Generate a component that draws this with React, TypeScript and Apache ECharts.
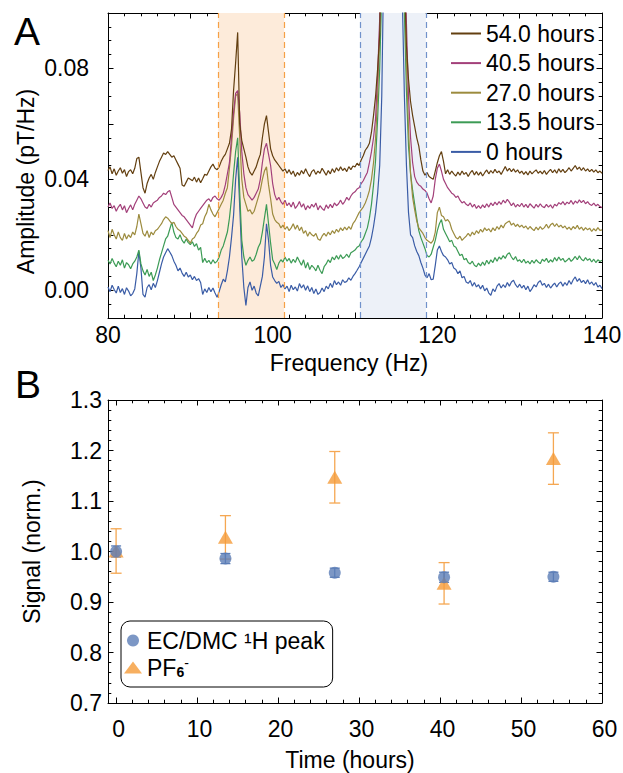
import React, { useEffect, useRef } from "react";
import * as echarts from "echarts";

const FONT = "'Liberation Sans', Arial, Helvetica, sans-serif";

// ---------- Panel A: spectra (values in 1e-3 pT/Hz, 0.25 Hz steps from 80 Hz) ----------
const FREQ_START = 80;
const FREQ_STEP = 0.25;

const amp0h = [
  1.2, -0.5, 1.8, 0.3, -1.0, 1.5, -0.8, 0.6, -1.5, 0.9, -0.3, -2.0, -1.2, 0.5, 6.0, 14.0, 8.0, -1.5, -2.5, 1.0,
  2.0, 0.2, 2.5, 1.0, 3.5, 6.5, 9.5, 12.0, 13.5, 15.0, 13.8, 12.5, 10.5, 9.0, 7.0, 8.0, 6.2, 5.0, 6.5, 4.8,
  5.5, 3.8, 5.0, 3.5, 4.2, 2.8, -1.5, 0.5, -0.8, 1.0, -0.5, 0.8, -1.0, -2.5, -0.5, 2.0, 4.0, 3.0, 7.0, 12.0,
  19.0, 27.0, 40.0, 48.0, 30.0, 12.0, 1.0, -5.5, 1.0, 3.0, 0.0, 1.5, -1.0, -2.0, 1.5, 5.0, 12.0, 24.0, 18.0, 9.0,
  4.8, 3.5, 2.5, 3.2, 1.0, 2.0, 0.5, 1.5, -0.5, 1.8, 0.2, 1.2, -0.3, 2.4, 0.8, 2.0, 0.0, 1.6, -0.5, 1.0,
  -1.2, 0.5, -1.5, -0.8, 0.8, -0.5, 1.5, 0.5, 2.5, 1.0, 3.5, 2.0, 3.0, 1.8, 3.8, 2.8, 3.2, 4.5, 3.6, 5.0,
  6.0, 7.2, 8.5, 10.0, 11.5, 13.0, 14.5, 16.0, 19.0, 23.0, 28.0, 35.0, 45.0, 70.0, 120.0, 220.0, 400.0, 600.0, 700.0, 600.0,
  450, 300, 180, 105, 70, 45, 28, 20, 19, 16, 14, 12.5, 10, 8, 5.5, 4.5, 6, 3.8, 4.0, 9,
  14.5, 16, 14, 12.5, 12, 11, 9.5, 10, 8, 7.5, 6, 7, 4.5, 5, 3, 2.5, 3.5, 1.5, 2.8, 1.2,
  2.0, 0.5, 1.8, -0.2, 0.8, -1.0, -1.8, 0.5, -0.5, 1.5, 2.4, 0.8, 2.0, 1.0, 2.8, 1.5, 3.0, 3.6, 2.0, 1.0,
  2.2, 0.8, 1.8, 0.2, 1.5, -0.5, 0.6, 2.0, 1.2, 2.8, 3.5, 1.8, 2.5, 1.0, 2.2, 0.8, 1.8, 2.6, 1.2, 2.4,
  3.0, 1.5, 2.8, 1.8, 3.5, 2.2, 3.8, 4.8, 3.2, 4.2, 2.8, 3.6, 2.4, 3.8, 2.2, 3.0, 1.8, 2.8, 1.2, 1.8, 0.6,
];

const amp13h = [
  10.8, 9.5, 11.5, 9.8, 8.5, 10.5, 9.0, 11.0, 8.0, 10.0, 9.2, 7.8, 9.5, 10.5, 12.0, 14.5, 9.5, 7.0, 5.5, 7.5,
  5.0, 6.5, 3.5, 5.5, 8.0, 11.0, 13.5, 16.0, 18.5, 19.5, 22.0, 24.5, 21.0, 19.0, 18.5, 20.0, 18.0, 17.0, 18.5, 17.2,
  16.5, 17.5, 15.8, 16.8, 14.5, 15.5, 10.0, 11.5, 10.0, 10.8, 9.5, 11.0, 9.8, 10.5, 12.0, 14.5, 16.0, 18.5, 21.0, 26.0,
  33.0, 42.0, 50.0, 55.0, 35.0, 18.0, 12.0, 9.0, 10.8, 12.0, 10.5, 11.0, 13.0, 15.5, 17.0, 21.0, 26.0, 31.0, 24.0, 17.0,
  11.0, 9.5, 7.5, 9.8, 11.0, 10.2, 12.0, 10.5, 11.5, 9.8, 11.2, 10.0, 12.0, 10.5, 9.0, 11.0, 8.0, 10.0, 7.5, 9.0,
  8.2, 7.0, 9.0, 7.2, 6.0, 8.5, 9.5, 11.0, 10.0, 12.0, 11.0, 12.5, 11.2, 12.8, 11.5, 12.0, 13.0, 11.8, 13.5, 14.0,
  14.5, 15.5, 16.0, 17.5, 18.5, 20.5, 22.5, 26.0, 31.0, 38.0, 47.0, 62.0, 80.0, 108.0, 160.0, 260.0, 420.0, 620.0, 720.0, 620.0,
  480, 330, 210, 140, 100, 72, 52, 42, 36, 31, 26, 21.5, 19, 17, 15, 12.5, 12, 13, 15.5, 18,
  21.5, 24, 25.5, 22, 20.5, 19, 17.5, 18, 16, 15.5, 14, 12.5, 13, 11, 11.5, 10, 9.5, 10.5, 9, 8.5,
  9.8, 8.8, 10.2, 9.0, 10.8, 9.5, 11.0, 10.0, 11.8, 10.5, 12.0, 11.2, 12.5, 11.5, 13.0, 13.5, 12.0, 11.0, 12.2, 10.5,
  11.0, 10.0, 11.2, 9.8, 10.5, 9.5, 10.8, 9.8, 11.0, 10.2, 9.6, 11.2, 10.4, 11.5, 10.0, 11.0, 10.2, 11.8, 10.6, 12.0,
  10.8, 11.5, 10.2, 10.8, 11.6, 10.4, 11.2, 12.2, 11.0, 12.4, 11.2, 10.6, 11.8, 10.8, 11.4, 10.2, 11.2, 10.0, 11.0, 10.4, 10.8,
];

const amp27h = [
  21.5, 19.0, 22.0, 20.0, 18.5, 21.0, 19.0, 18.0, 20.5, 18.5, 20.0, 19.0, 21.0, 20.0, 23.0, 27.5, 24.0, 20.5, 19.5, 21.5,
  19.0, 21.0, 20.0, 21.5, 22.0, 23.0, 24.0, 25.5, 26.5, 26.0, 25.0, 24.0, 24.5, 23.0, 22.0, 21.5, 20.5, 19.5, 19.0, 18.0,
  17.0, 18.5, 19.0, 20.5, 21.5, 23.5, 24.0, 26.5, 28.0, 31.0, 29.0, 27.5, 26.5, 28.0, 29.5, 31.0, 32.5, 35.0, 37.0, 44.0,
  52.0, 62.0, 70.0, 71.0, 55.0, 40.0, 33.5, 31.0, 28.5, 29.0, 27.5, 28.5, 31.0, 33.5, 36.0, 40.0, 43.0, 44.5, 38.0, 33.0,
  27.5, 25.5, 24.5, 24.0, 22.5, 23.5, 22.0, 23.0, 21.5, 22.5, 24.0, 22.0, 23.5, 21.5, 22.8, 20.5, 21.5, 19.5, 21.0, 20.0,
  19.5, 20.5, 18.5, 18.0, 19.5, 20.5, 19.5, 21.0, 20.0, 21.5, 20.5, 22.0, 21.0, 22.5, 21.5, 22.8, 21.8, 23.0, 22.0, 24.0,
  25.0, 26.5, 28.0, 29.0, 30.0, 31.5, 33.5, 36.0, 40.0, 46.0, 55.0, 70.0, 95.0, 140.0, 210.0, 320.0, 480.0, 650.0, 750.0, 650.0,
  520, 360, 240, 160, 112, 82, 58, 42, 33.5, 29, 25, 22.5, 21.5, 20.5, 19, 18, 17.5, 17, 18, 21,
  28, 30, 27, 26.5, 25, 25.5, 24.5, 22, 20.5, 19, 18.5, 19.5, 18, 18.8, 19.5, 20.5, 19.5, 21, 20, 21.5,
  20.5, 22, 21, 22.5, 21.5, 22.2, 21.0, 22.5, 21.5, 23, 22, 23.5, 22.5, 24, 24.5, 25.0, 23.5, 24.2, 23.0, 23.8,
  22.8, 23.5, 22.5, 23.2, 22.0, 23.0, 22.2, 21.5, 22.8, 21.8, 23.0, 22.0, 22.6, 23.8, 22.4, 23.6, 24.2, 23.0, 24.0, 22.8,
  23.5, 22.5, 23.2, 22.0, 22.8, 21.8, 23.0, 22.2, 23.4, 22.0, 22.8, 21.6, 22.6, 21.8, 22.4, 21.2, 22.2, 21.4, 22.6, 21.6, 21.8,
];

const amp40h = [
  30.0, 31.5, 29.5, 30.5, 28.5, 30.0, 31.0, 29.0, 30.5, 28.0, 29.5, 30.8, 29.0, 31.0, 32.5, 34.0, 33.0, 31.5, 30.0, 29.5,
  31.0, 30.0, 31.5, 32.0, 32.5, 33.5, 34.0, 35.0, 34.5, 35.5, 36.0, 33.5, 31.0, 30.0, 29.0, 28.0, 27.0, 26.5, 25.5, 24.5,
  23.5, 22.5, 25.5, 27.5, 28.5, 29.5, 30.5, 31.5, 32.5, 33.0, 32.0, 33.5, 34.0, 33.0, 32.5, 33.5, 35.0, 38.0, 42.0, 46.0,
  55.0, 64.0, 71.0, 72.0, 64.0, 50.0, 42.0, 37.0, 34.5, 33.5, 32.5, 33.5, 35.0, 36.5, 40.0, 46.0, 51.0, 53.0, 49.0, 45.0,
  38.5, 34.5, 32.5, 33.5, 32.0, 31.0, 32.5, 30.5, 31.5, 30.0, 31.8, 29.5, 30.5, 32.0, 30.0, 31.2, 29.0, 30.5, 29.5, 31.0,
  30.0, 31.5, 29.0, 30.5, 29.5, 28.8, 30.8, 29.5, 31.0, 29.8, 31.5, 30.5, 31.2, 32.5, 31.0, 32.0, 33.5, 32.5, 34.0, 35.0,
  35.5, 36.5, 37.0, 38.5, 39.5, 41.0, 42.5, 46.0, 50.0, 55.0, 62.0, 78.0, 98.0, 150.0, 230.0, 350.0, 520.0, 700.0, 800.0, 700.0,
  560, 400, 270, 180, 130, 96, 70, 55, 46, 41, 39, 38, 37.5, 36.5, 36, 35, 33, 31.5, 34, 40,
  44, 45.5, 43, 40, 38.5, 37, 36, 35, 34.5, 33.5, 34, 32.5, 31.5, 32, 31, 30.5, 31.5, 30, 31, 29.5,
  30.5, 29.5, 30.8, 29.8, 31.2, 30.0, 31.5, 30.5, 31.8, 30.8, 32.0, 31.0, 32.5, 31.5, 32.8, 31.8, 30.5, 31.5, 30.0, 31.0,
  30.2, 31.4, 30.0, 31.0, 29.8, 31.2, 30.4, 29.6, 31.0, 30.0, 31.2, 30.2, 29.8, 31.0, 30.0, 30.8, 29.6, 31.0, 30.4, 31.6,
  31.0, 32.0, 30.8, 31.8, 31.2, 32.4, 31.0, 32.2, 31.4, 32.6, 31.6, 32.4, 31.2, 32.0, 31.0, 30.6, 31.4, 30.4, 31.0, 30.2, 29.8,
];

const amp54h = [
  43.2, 44.5, 42.0, 43.8, 41.5, 43.0, 44.2, 42.2, 43.5, 41.0, 42.8, 43.5, 42.0, 44.0, 47.5, 48.0, 42.5, 37.0, 35.0, 38.5,
  40.5, 41.8, 40.0, 42.5, 44.5, 46.5, 48.0, 49.5, 49.0, 50.0, 49.0, 48.0, 48.5, 47.0, 45.5, 44.0, 38.0, 37.5, 39.0, 40.5,
  40.0, 39.5, 40.8, 39.0, 40.5, 38.8, 40.2, 41.8, 41.5, 43.0, 44.5, 45.5, 44.0, 43.5, 44.5, 46.5, 48.0, 49.0, 51.0, 53.0,
  58.0, 72.0, 82.0, 93.0, 60.0, 54.0, 51.0, 48.0, 44.5, 42.5, 41.5, 43.0, 44.5, 47.0, 49.0, 55.0, 60.0, 63.0, 57.0, 51.0,
  48.5, 47.0, 46.0, 45.0, 44.0, 43.0, 43.8, 42.2, 43.5, 41.8, 43.0, 41.0, 42.5, 41.5, 43.2, 42.0, 43.8, 42.2, 41.0, 42.8,
  43.5, 41.8, 43.0, 42.2, 44.0, 42.8, 41.5, 43.2, 42.0, 43.8, 42.5, 44.2, 43.0, 44.5, 43.2, 44.0, 42.8, 44.6, 43.5, 44.8,
  44.5, 45.8, 45.0, 47.0, 48.5, 50.5, 51.5, 53.0, 57.0, 63.0, 70.0, 80.0, 92.0, 130.0, 200.0, 320.0, 480.0, 650.0, 780.0, 700.0,
  580, 440, 300, 180, 115, 88, 76, 68, 63, 59, 55, 52, 47, 43, 41.5, 42.5, 41, 40.5, 40, 43,
  46, 48.5, 50, 46.5, 42, 43.5, 41.8, 43, 42, 41.2, 42.6, 41.5, 43.0, 41.8, 42.5, 41.0, 42.4, 43.2, 41.6, 42.8,
  41.5, 42.6, 41.2, 42.4, 43.4, 42.0, 43.2, 42.2, 43.6, 42.4, 43.0, 41.8, 43.2, 44.6, 43.0, 44.0, 42.8, 43.8, 42.6, 43.4,
  42.2, 43.0, 41.8, 42.8, 41.6, 43.0, 42.0, 42.8, 43.4, 42.2, 43.0, 42.0, 43.2, 41.8, 42.8, 43.6, 42.4, 43.4, 42.2, 43.8,
  42.6, 43.6, 42.4, 43.2, 44.2, 43.0, 44.0, 45.0, 43.6, 44.4, 43.2, 44.2, 43.0, 43.8, 42.8, 43.6, 42.6, 43.4, 42.4, 43.0, 42.2,
];

const spectraNames = ["0 hours", "13.5 hours", "27.0 hours", "40.5 hours", "54.0 hours"];
const spectraValues = [amp0h, amp13h, amp27h, amp40h, amp54h];
const spectraColors = ["#3A5CA6", "#3C9B55", "#9C8B3E", "#A3407A", "#633F10"];
const legendOrderA = ["54.0 hours", "40.5 hours", "27.0 hours", "13.5 hours", "0 hours"];

const orangeBand = [93.4, 101.4];
const blueBand = [110.6, 118.6];

const freqLabels = [80, 100, 120, 140];
const ampLabels = [0, 0.04, 0.08];

// ---------- Panel B ----------
const times = [0, 13.5, 27, 40.5, 54];
const ecSignal = [1.0, 0.986, 0.958, 0.949, 0.95];
const ecError = [0.011, 0.01, 0.009, 0.01, 0.009];
const pfSignal = [1.001, 1.028, 1.147, 0.937, 1.184];
const pfError = [0.044, 0.043, 0.051, 0.041, 0.051];
const timeLabels = [0, 10, 20, 30, 40, 50, 60];
const signalLabels = [0.7, 0.8, 0.9, 1.0, 1.1, 1.2, 1.3];

const EC_NAME = "EC/DMC \u00B9H peak";
const PF_NAME = "PF6-";

function steps(a: number, b: number, s: number) {
  const out: number[] = [];
  const n = Math.round((b - a) / s);
  for (let i = 0; i <= n; i++) out.push(Math.round((a + i * s) * 100000) / 100000);
  return out;
}

function frameAxes(
  dim: "x" | "y",
  grid: number,
  min: number,
  max: number,
  majors: number[],
  minors: number[],
  labels: number[],
  labelOpts: any
) {
  const positions = dim === "x" ? ["bottom", "top"] : ["left", "right"];
  const axes: any[] = [];
  positions.forEach((p, k) => {
    axes.push({
      type: "value",
      gridIndex: grid,
      position: p,
      min,
      max,
      axisLine: { show: true, onZero: false, lineStyle: { color: "#000", width: 1 } },
      axisTick: { show: true, inside: true, length: 5.5, customValues: majors, lineStyle: { color: "#000", width: 1 } },
      minorTick: { show: false },
      axisLabel:
        k === 0
          ? { show: true, customValues: labels, color: "#000", fontSize: 23, fontFamily: FONT, ...labelOpts }
          : { show: false },
      splitLine: { show: false },
      axisPointer: { show: false },
    });
    axes.push({
      type: "value",
      gridIndex: grid,
      position: p,
      min,
      max,
      axisLine: { show: false, onZero: false },
      axisTick: { show: true, inside: true, length: 3.3, customValues: minors, lineStyle: { color: "#000", width: 1 } },
      axisLabel: { show: false },
      splitLine: { show: false },
      axisPointer: { show: false },
    });
  });
  return axes;
}

function errorBarSeries(name: string, vals: number[], errs: number[], color: string, half: number) {
  return {
    type: "custom",
    name,
    xAxisIndex: 4,
    yAxisIndex: 4,
    silent: true,
    encode: { x: 0, y: [1, 2] },
    data: times.map((t, i) => [t, vals[i] - errs[i], vals[i] + errs[i]]),
    renderItem: (_params: any, api: any) => {
      const x = api.value(0);
      const a = api.coord([x, api.value(1)]);
      const b = api.coord([x, api.value(2)]);
      const style = { stroke: color, lineWidth: 1.3 };
      return {
        type: "group",
        children: [
          { type: "line", shape: { x1: a[0], y1: a[1], x2: b[0], y2: b[1] }, style },
          { type: "line", shape: { x1: a[0] - half, y1: a[1], x2: a[0] + half, y2: a[1] }, style },
          { type: "line", shape: { x1: b[0] - half, y1: b[1], x2: b[0] + half, y2: b[1] }, style },
        ],
      };
    },
  };
}

export default function App() {
  const ref = useRef<HTMLDivElement>(null);

  useEffect(() => {
    if (!ref.current) return;
    const chart = echarts.init(ref.current, null, { renderer: "svg" });

    const freqs = amp0h.map((_, i) => FREQ_START + FREQ_STEP * i);

    const lineSeries = spectraNames.map((name, s) => ({
      type: "line",
      name,
      xAxisIndex: 0,
      yAxisIndex: 0,
      color: spectraColors[s],
      symbol: "none",
      showSymbol: false,
      clip: true,
      z: 3,
      lineStyle: { width: 1.2, color: spectraColors[s] },
      data: freqs.map((f, i) => [f, spectraValues[s][i] / 1000]),
    }));

    const bandSeries = {
      type: "line",
      name: "bands",
      xAxisIndex: 0,
      yAxisIndex: 0,
      data: [],
      z: 1,
      silent: true,
      markArea: {
        silent: true,
        data: [
          [{ xAxis: orangeBand[0], itemStyle: { color: "#FDEBDA" } }, { xAxis: orangeBand[1] }],
          [{ xAxis: blueBand[0], itemStyle: { color: "#EDF1F8" } }, { xAxis: blueBand[1] }],
        ],
      },
      markLine: {
        silent: true,
        symbol: "none",
        label: { show: false },
        data: [
          { xAxis: orangeBand[0], lineStyle: { color: "#F6A045", type: [6, 4], width: 1.2 } },
          { xAxis: orangeBand[1], lineStyle: { color: "#F6A045", type: [6, 4], width: 1.2 } },
          { xAxis: blueBand[0], lineStyle: { color: "#7192CB", type: [6, 4], width: 1.2 } },
          { xAxis: blueBand[1], lineStyle: { color: "#7192CB", type: [6, 4], width: 1.2 } },
        ],
      },
    };

    const option: any = {
      animation: false,
      textStyle: { fontFamily: FONT },
      grid: [
        { left: 108, top: 13, width: 494, height: 305, outerBoundsMode: "none", containLabel: false },
        { left: 108, top: 400, width: 494, height: 303, outerBoundsMode: "none", containLabel: false },
      ],
      xAxis: [
        ...frameAxes("x", 0, 80, 140, steps(80, 140, 10), steps(80, 140, 2), freqLabels, { margin: 5 }),
        ...frameAxes("x", 1, -1, 60, steps(0, 60, 10), steps(0, 58, 2), timeLabels, { margin: 14, padding: [0, 0, 0, 5] }),
      ],
      yAxis: [
        ...frameAxes("y", 0, -0.01, 0.1, steps(0, 0.1, 0.02), steps(-0.01, 0.1, 0.005), ampLabels, {
          margin: 19,
          padding: [12, 0, 0, 0],
          formatter: (v: number) => v.toFixed(2),
        }),
        ...frameAxes("y", 1, 0.7, 1.3, signalLabels, steps(0.7, 1.3, 0.02), signalLabels, {
          margin: 6,
          padding: [0, 0, 6, 0],
          formatter: (v: number) => v.toFixed(1),
        }),
      ],
      legend: [
        {
          data: legendOrderA,
          orient: "vertical",
          left: 451,
          top: 22,
          padding: 0,
          itemGap: 6.6,
          itemWidth: 30,
          itemHeight: 2,
          icon: "rect",
          selectedMode: false,
          textStyle: { fontSize: 23, color: "#000", fontFamily: FONT },
        },
        {
          data: [EC_NAME, PF_NAME],
          orient: "vertical",
          left: 121,
          top: 621,
          padding: [8, 8, 8, 3],
          itemGap: 4,
          itemWidth: 18,
          itemHeight: 12,
          selectedMode: false,
          borderColor: "#000",
          borderWidth: 1,
          borderRadius: 9,
          backgroundColor: "#fff",
          formatter: (name: string) => (name === PF_NAME ? "PF{sub|6}{sup|-}" : name),
          textStyle: {
            fontSize: 23,
            color: "#000",
            fontFamily: FONT,
            rich: {
              sub: { fontSize: 14, fontFamily: FONT, color: "#000", fontWeight: "bold", padding: [9, 0, 0, 0] },
              sup: { fontSize: 14, fontFamily: FONT, color: "#000", padding: [0, 0, 9, 0] },
            },
          },
        },
      ],
      series: [
        bandSeries,
        ...lineSeries,
        errorBarSeries("pfErr", pfSignal, pfError, "#F5A752", 5.5),
        {
          type: "scatter",
          name: PF_NAME,
          xAxisIndex: 4,
          yAxisIndex: 4,
          symbol: "triangle",
          symbolSize: [15, 13],
          itemStyle: { color: "#F59B38" },
          data: times.map((t, i) => [t, pfSignal[i]]),
        },
        errorBarSeries("ecErr", ecSignal, ecError, "#5B7DB6", 5),
        {
          type: "scatter",
          name: EC_NAME,
          xAxisIndex: 4,
          yAxisIndex: 4,
          symbol: "circle",
          symbolSize: 12,
          itemStyle: { color: "#5B7DB6" },
          data: times.map((t, i) => [t, ecSignal[i]]),
        },
      ],
      graphic: [
        { type: "text", x: 27, y: 31, style: { text: "A", fontSize: 39, fontFamily: FONT, fill: "#000", align: "center", verticalAlign: "middle" } },
        { type: "text", x: 28, y: 384, style: { text: "B", fontSize: 39, fontFamily: FONT, fill: "#000", align: "center", verticalAlign: "middle" } },
        {
          type: "text",
          x: 25.5,
          y: 181.5,
          rotation: Math.PI / 2,
          style: { text: "Amplitude (pT/Hz)", fontSize: 23, fontFamily: FONT, fill: "#000", align: "center", verticalAlign: "middle" },
        },
        { type: "text", x: 349, y: 363, style: { text: "Frequency (Hz)", fontSize: 23, fontFamily: FONT, fill: "#000", align: "center", verticalAlign: "middle" } },
        {
          type: "text",
          x: 32,
          y: 551.5,
          rotation: Math.PI / 2,
          style: { text: "Signal (norm.)", fontSize: 23, fontFamily: FONT, fill: "#000", align: "center", verticalAlign: "middle" },
        },
        { type: "text", x: 350, y: 760, style: { text: "Time (hours)", fontSize: 23, fontFamily: FONT, fill: "#000", align: "center", verticalAlign: "middle" } },
      ],
    };

    chart.setOption(option);
    return () => chart.dispose();
  }, []);

  return (
    <div
      ref={ref}
      style={{ position: "absolute", left: 0, top: 0, width: 623, height: 773, background: "#fff" }}
    />
  );
}
